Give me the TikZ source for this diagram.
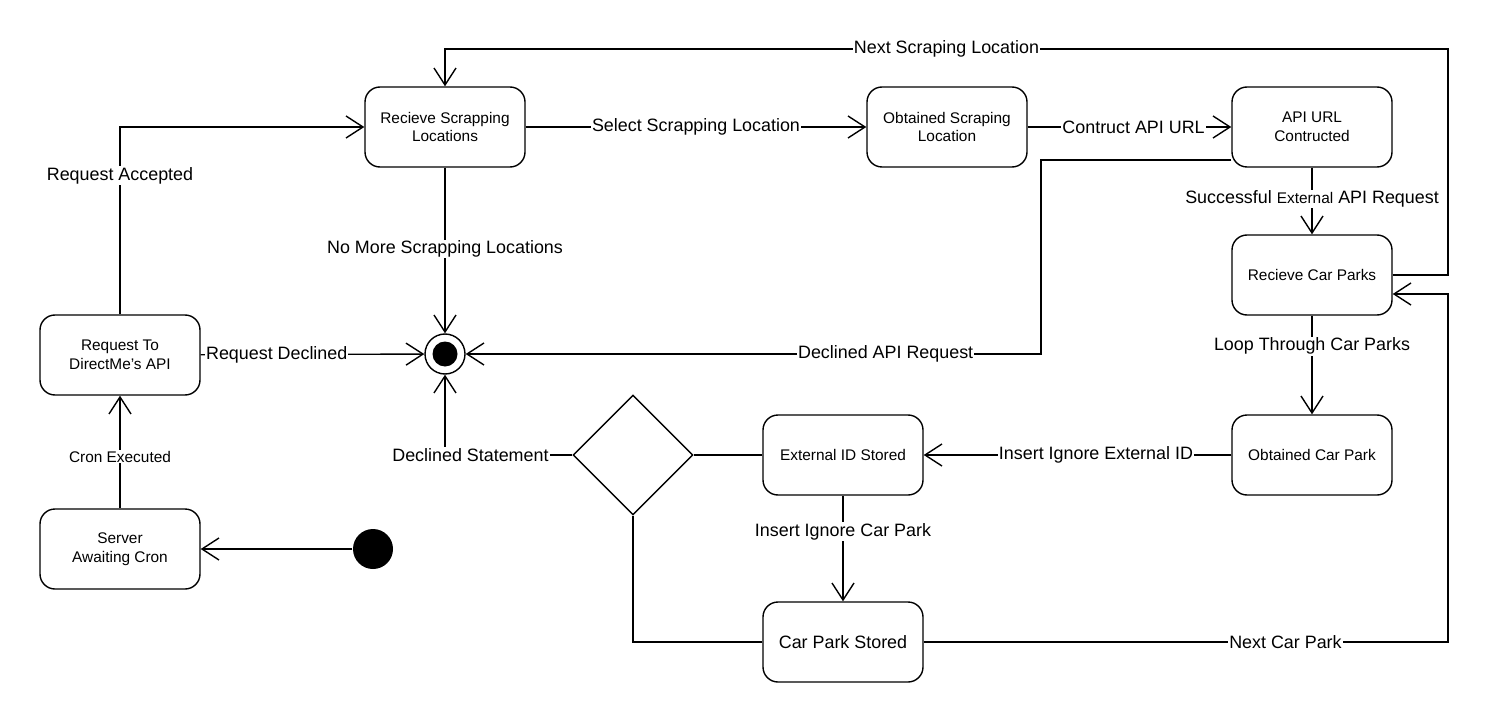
\documentclass[tikz,border=0pt]{standalone}
\usepackage{fontspec}
\setmainfont{Liberation Sans}
\usetikzlibrary{positioning,arrows.meta,shapes.geometric}

\begin{document}
\begin{tikzpicture}[x=1pt, y=-1pt, line width=1.4pt, >={Straight Barb[length=17pt,width=22pt]}]
                \tikzset{state/.style={draw, rounded corners=15pt, minimum width=160pt, minimum height=80pt, align=center, font=\fontsize{15.4}{18.5}\selectfont},
                         lbl/.style={fill=white, inner sep=1pt, font=\fontsize{17.9}{21}\selectfont}}
                \useasboundingbox (0,0) rectangle (1491,722);
                % states
                \node[state] (recv) at (445,127) {Recieve Scrapping\\Locations};
                \node[state] (obt) at (947,127) {Obtained Scraping\\Location};
                \node[state] (api) at (1312,127) {API URL\\Contructed};
                \node[state] (rcp) at (1312,275) {Recieve Car Parks};
                \node[state] (req) at (120,355) {Request To\\DirectMe's API};
                \node[state] (ocp) at (1312,455) {Obtained Car Park};
                \node[state] (eid) at (843,455) {External ID Stored};
                \node[state] (srv) at (120,549) {Server\\Awaiting Cron};
                \node[state, font=\fontsize{17.9}{21}\selectfont] (cps) at (843,642) {Car Park Stored};
                \node[draw, diamond, aspect=1, inner sep=0pt, minimum size=120pt] (dec) at (633,455) {};
                \node[draw, circle, inner sep=0pt, minimum size=40pt] (fin) at (445,354) {};
                \fill (fin.center) circle (12.5pt);
                \node[fill, circle, inner sep=0pt, minimum size=40pt] (init) at (373,549) {};
                \coordinate (nsl) at (1448,49);
                \coordinate (ncp) at (1448,642);
                \coordinate (dar) at (1041,354);
                % transitions
                \path[->]
                    (init) edge (srv)
                    (srv) edge node [lbl, pos=0.46, font=\fontsize{15.4}{18}\selectfont] {Cron Executed} (req)
                    (req) edge node [lbl, pos=0.34] {Request Declined} (fin)
                    (recv) edge node [lbl, pos=0.49] {No More Scrapping Locations} (fin)
                        edge node [lbl] {Select Scrapping Location} (obt)
                    (obt) edge node [lbl, pos=0.52] {Contruct API URL} (api)
                    (api) edge node [lbl, pos=0.47] {Successful {\fontsize{15.4}{18}\selectfont External} API Request} (rcp)
                    (rcp) edge node [lbl, pos=0.31] {Loop Through Car Parks} (ocp)
                    (ocp) edge node [lbl, pos=0.44] {Insert Ignore External ID} (eid)
                    (eid) edge node [lbl, pos=0.34] {Insert Ignore Car Park} (cps);
                \draw[->] (req.north) |- node [lbl, pos=0.37] {Request Accepted} (recv.west);
                \draw[->] ([yshift=-33pt]api.west) -| (dar) -- node [lbl, pos=0.27] {Declined API Request} (fin);
                \draw[->] (rcp.east) -| (nsl) -| node [lbl, pos=0.25] {Next Scraping Location} (recv.north);
                \draw[->] (cps.east) -- node [lbl, pos=0.69] {Next Car Park} (ncp) |- ([yshift=-19pt]rcp.east);
                \draw[->] (dec.west) -| node [lbl, pos=0.4] {Declined Statement} (fin.south);
                \draw (eid.west) -- (dec.east);
                \draw (cps.west) -| (dec.south);
            \end{tikzpicture}
\end{document}
